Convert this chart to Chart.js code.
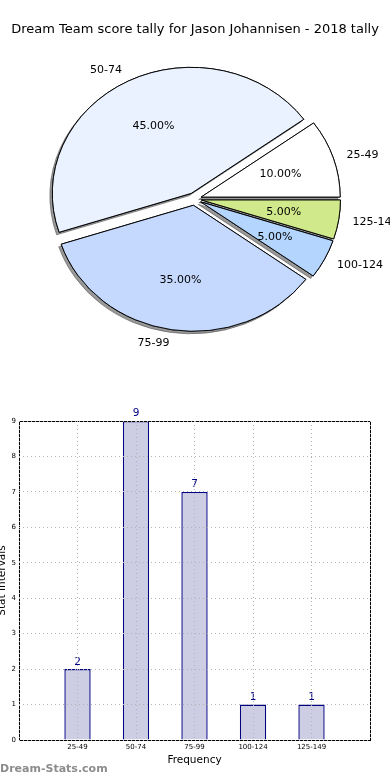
<!DOCTYPE html>
<html>
<head>
<meta charset="utf-8">
<script src="https://cdn.jsdelivr.net/npm/chart.js@4/dist/chart.umd.min.js"></script>
<style>
  html, body { margin: 0; padding: 0; background: #fff; }
  body { width: 390px; height: 780px; position: relative; overflow: hidden; font-family: "DejaVu Sans", sans-serif; }
  #title { position: absolute; left: 0; width: 390px; top: 21px; text-align: center; font-size: 13px; color: #000; white-space: nowrap; }
  #pie { position: absolute; left: 0; top: 0; }
  #bar { position: absolute; left: 0; top: 400px; }
  #wm { position: absolute; left: 0; top: 762px; font-size: 11px; font-weight: bold; color: #8c8c8c; white-space: nowrap; }
</style>
</head>
<body>
<canvas id="pie" width="390" height="400"></canvas>
<canvas id="bar" width="390" height="380"></canvas>
<div id="title">Dream Team score tally for Jason Johannisen - 2018 tally</div>
<div id="wm">Dream-Stats.com</div>
<script>
// ---- data ----
const categories = ['25-49', '50-74', '75-99', '100-124', '125-149'];
const counts = [2, 9, 7, 1, 1];
const pieColors = ['#ffffff', '#eaf2ff', '#c5d9fe', '#b3d5fe', '#cfe98b'];
const yTicks = [0, 1, 2, 3, 4, 5, 6, 7, 8, 9];

// matplotlib draws counter-clockwise from east; Chart.js draws clockwise, so reverse order
const pieLabels = categories.slice().reverse();
const pieValues = counts.slice().reverse();
const pieFill = pieColors.slice().reverse();
const total = counts.reduce((a, b) => a + b, 0);

const RX = 139, RY = 126, EXPLODE = 7;
const ratio = RY / RX;

function pieCenter(chart) {
  const a = chart.chartArea;
  return { cx: (a.left + a.right) / 2, cy: (a.top + a.bottom) / 2 };
}

const ellipsePlugin = {
  id: 'ellipse',
  afterDatasetsUpdate(chart) {
    // explode every wedge outward along its mid angle (like matplotlib's explode)
    const { cx, cy } = pieCenter(chart);
    chart.getDatasetMeta(0).data.forEach(arc => {
      const a = (arc.startAngle + arc.endAngle) / 2;
      arc.x = cx + EXPLODE * Math.cos(a);
      arc.y = cy + EXPLODE * Math.sin(a);
    });
  },
  beforeDatasetsDraw(chart) {
    const { cx, cy } = pieCenter(chart);
    const ctx = chart.ctx;
    ctx.save();
    ctx.translate(cx, cy);
    ctx.scale(1, ratio);
    ctx.translate(-cx, -cy);
    // shadow pre-pass
    ctx.save();
    ctx.shadowColor = 'rgba(70,70,70,0.55)';
    ctx.shadowOffsetX = -2.5;
    ctx.shadowOffsetY = 2.5;
    ctx.shadowBlur = 0;
    chart.getDatasetMeta(0).data.forEach(arc => arc.draw(ctx));
    ctx.restore();
  },
  afterDatasetsDraw(chart) {
    const ctx = chart.ctx;
    ctx.restore();
    const { cx, cy } = pieCenter(chart);
    const meta = chart.getDatasetMeta(0);
    ctx.save();
    ctx.font = '11px "DejaVu Sans"';
    ctx.fillStyle = '#000';
    ctx.textBaseline = 'middle';
    meta.data.forEach((arc, i) => {
      const a = (arc.startAngle + arc.endAngle) / 2;
      const c = Math.cos(a), s = Math.sin(a);
      const ex = EXPLODE / RX;
      const lx = cx + RX * (1.1 + ex) * c;
      const ly = cy + RY * (1.1 + ex) * s + 0.5;
      ctx.textAlign = c > 0 ? 'left' : 'right';
      ctx.fillText(pieLabels[i], lx, ly);
      const px = cx + RX * (0.6 + ex) * c;
      const py = cy + RY * (0.6 + ex) * s + 0.5;
      ctx.textAlign = 'center';
      ctx.fillText((pieValues[i] / total * 100).toFixed(2) + '%', px, py);
    });
    ctx.restore();
  }
};

new Chart(document.getElementById('pie'), {
  type: 'pie',
  data: {
    labels: pieLabels,
    datasets: [{
      data: pieValues,
      backgroundColor: pieFill,
      borderColor: '#000',
      borderWidth: 1,
      offset: 0,
      hoverOffset: 0
    }]
  },
  options: {
    responsive: false,
    animation: false,
    devicePixelRatio: 1,
    rotation: 90,
    radius: RX,
    layout: { padding: { left: 0, right: 1, top: 0, bottom: 2 } },
    plugins: { legend: { display: false }, tooltip: { enabled: false } },
    events: []
  },
  plugins: [ellipsePlugin]
});

// ---- bar chart ----
const framePlugin = {
  id: 'frame',
  afterDatasetsDraw(chart) {
    const { ctx, chartArea: a } = chart;
    ctx.save();
    ctx.strokeStyle = '#000';
    ctx.lineWidth = 1;
    ctx.strokeRect(Math.round(a.left) + 0.5, Math.round(a.top) + 0.5, Math.round(a.right - a.left), Math.round(a.bottom - a.top));
    const meta = chart.getDatasetMeta(0);
    ctx.fillStyle = '#000080';
    ctx.font = '10.5px "DejaVu Sans"';
    ctx.textAlign = 'center';
    ctx.textBaseline = 'bottom';
    meta.data.forEach((bar, i) => {
      ctx.fillText(String(counts[i]), bar.x, bar.y - 2);
    });
    ctx.restore();
  }
};

new Chart(document.getElementById('bar'), {
  type: 'bar',
  data: {
    datasets: [{
      data: counts.map((v, i) => ({ x: i, y: v })),
      backgroundColor: '#cdcde3',
      borderColor: '#000080',
      borderWidth: 1.4,
      barPercentage: 0.45,
      categoryPercentage: 1
    }]
  },
  options: {
    responsive: false,
    animation: false,
    devicePixelRatio: 1,
    layout: { padding: { left: 0, right: 20, top: 21, bottom: 0 } },
    plugins: { legend: { display: false }, tooltip: { enabled: false } },
    events: [],
    scales: {
      x: {
        type: 'linear',
        offset: false,
        min: -1,
        max: categories.length,
        afterBuildTicks(scale) {
          const vals = [-1].concat(categories.map((c, i) => i), [categories.length]);
          scale.ticks = vals.map(v => ({ value: v }));
        },
        ticks: {
          autoSkip: false,
          maxRotation: 0,
          padding: 3,
          color: '#000',
          font: { family: 'DejaVu Sans', size: 7 },
          callback: (v) => (categories[v] !== undefined ? categories[v] : '')
        },
        grid: { offset: false, color: '#b4b4b4', lineWidth: 1, drawTicks: false, z: 1 },
        border: { display: false, dash: [1, 3] },
        title: {
          display: true,
          text: 'Frequency',
          color: '#000',
          font: { family: 'DejaVu Sans', size: 10.5 },
          padding: { top: 0, bottom: 13 }
        },
        afterFit(scale) { scale.height = 40; }
      },
      y: {
        min: 0,
        max: 9,
        afterBuildTicks(scale) { scale.ticks = yTicks.map(v => ({ value: v })); },
        ticks: {
          padding: 3,
          color: '#000',
          font: { family: 'DejaVu Sans', size: 7 }
        },
        grid: { color: '#b4b4b4', lineWidth: 1, drawTicks: false, z: 1 },
        border: { display: false, dash: [1, 3] },
        title: {
          display: true,
          text: 'Stat Intervals',
          color: '#000',
          font: { family: 'DejaVu Sans', size: 10.5 },
          padding: { top: -4, bottom: 0 }
        },
        afterFit(scale) { scale.width = 19; }
      }
    }
  },
  plugins: [framePlugin]
});
</script>
</body>
</html>
